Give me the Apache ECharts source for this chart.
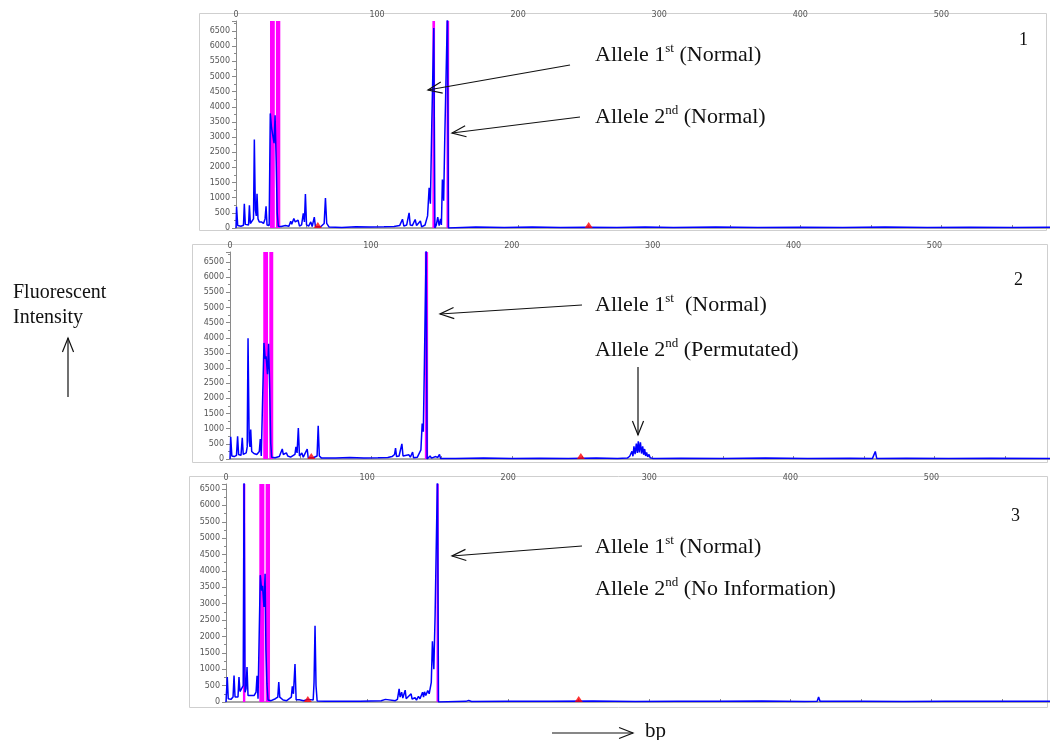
<!DOCTYPE html>
<html><head><meta charset="utf-8">
<script src="https://cdn.jsdelivr.net/npm/echarts@6/dist/echarts.min.js"></script>
<style>html,body{margin:0;padding:0;background:#fff}#c{width:1050px;height:740px}</style>
</head><body><div id="c"></div>
<script>
// ---------- DATA (bp, fluorescent intensity) ----------
const trace1 = [[0,0],[0.4,700],[1.2,80],[2.5,100],[3.5,60],[5.3,90],[5.9,800],[6.6,120],[8,150],[8.9,100],[9.5,750],[10.2,150],[11.5,200],[12.4,300],[13.0,2920],[13.7,600],[14.4,400],[14.9,1130],[15.6,300],[16.5,200],[18,200],[19.5,150],[20.6,300],[21.3,715],[22,100],[23.5,80],[24.3,3780],[25.2,3300],[26,3340],[27,2800],[27.7,3720],[28.5,2200],[29.2,500],[30,60],[32,50],[35,80],[37.5,60],[38.8,220],[39.5,120],[41,310],[42,200],[44,260],[45,60],[46.5,100],[47.7,480],[48.5,200],[49.2,1120],[50,100],[51.5,60],[53,200],[54,50],[55.5,360],[56.3,40],[60,40],[62.5,150],[63.4,990],[64.3,150],[66,30],[75,20],[85,40],[95,30],[105,40],[112,50],[116,80],[118,290],[119,60],[121,100],[122.7,500],[123.5,100],[125,80],[127,280],[128,80],[130.7,230],[131.6,40],[134,100],[135.8,400],[136.9,1330],[137.8,800],[138.8,3470],[140.2,6600],[141,0],[142,100],[143,360],[144,80],[145,300],[145.6,100],[146.3,1600],[147.2,900],[148,3000],[149.9,7200],[150.6,0],[152,20],[170,30],[190,15],[210,30],[230,20],[248,25],[270,15],[290,30],[310,20],[340,30],[370,15],[400,25],[430,20],[460,30],[490,15],[520,25],[550,20],[577,25]];

const trace2 = [[0,0],[0.5,730],[1.3,100],[3,80],[4.6,120],[5.4,750],[6.1,150],[7.8,120],[8.7,700],[9.4,150],[11.5,200],[12.2,400],[12.8,3980],[13.6,600],[14.2,400],[14.7,970],[15.4,250],[17,180],[19,150],[20.8,250],[21.5,660],[22.2,100],[23.3,100],[24.1,3830],[25,3300],[25.6,3390],[26.6,2800],[27.4,3800],[28.2,2300],[28.9,530],[29.6,60],[32,40],[35,80],[36.4,100],[37.1,330],[37.8,150],[40,200],[41,100],[43,60],[46.1,150],[46.8,400],[47.6,200],[48.5,1020],[49.3,100],[51,200],[52,60],[54.8,330],[55.5,40],[59,40],[61.8,100],[62.6,1100],[63.4,100],[65,30],[75,30],[85,50],[95,30],[105,40],[112,50],[115,80],[116.8,150],[117.5,360],[118.2,80],[120,100],[122,500],[122.8,100],[124,80],[127,140],[128,60],[129.6,230],[130.3,40],[133,60],[135.5,300],[136.4,1170],[137.2,900],[138,3190],[139.2,7000],[139.9,0],[141,60],[142,100],[143,30],[146,80],[147.5,50],[148.7,150],[149.4,20],[160,20],[180,30],[200,15],[220,25],[240,20],[260,30],[275,20],[282,30],[283.7,90],[284.5,30],[285.3,250],[286,90],[286.7,420],[287.5,160],[288.4,510],[289.1,200],[289.8,580],[290.5,220],[291.3,550],[292.1,180],[292.9,420],[293.6,140],[294.3,330],[295,100],[295.7,220],[296.5,70],[297.4,150],[298.2,40],[299.1,90],[299.9,20],[300.7,40],[303,15],[320,25],[350,20],[380,30],[410,15],[440,25],[456,20],[458,250],[459,20],[480,25],[510,15],[540,25],[582,20]];

const trace3 = [[0,0],[0.9,760],[1.6,100],[3.5,80],[5,150],[5.7,810],[6.4,150],[8.5,150],[9.2,760],[9.9,320],[11,320],[12.2,500],[12.8,7000],[13.5,300],[14.2,400],[14.9,1070],[15.6,200],[17,200],[20,200],[21.3,300],[22,800],[22.7,100],[23.6,100],[24.3,3870],[25.3,3400],[25.9,3550],[26.9,2900],[27.7,3910],[28.3,1600],[29,560],[29.8,60],[32,40],[35,100],[36.7,150],[37.4,610],[38.1,150],[39.5,170],[40.5,60],[43,40],[46.3,150],[47,480],[47.8,250],[48.9,1160],[49.7,70],[52,70],[55,40],[58,80],[61.8,60],[62.4,600],[63.1,2330],[63.8,500],[64.6,30],[70,20],[80,20],[95,20],[110,40],[113,80],[114,30],[120,40],[121.5,80],[122.7,400],[123.4,150],[124.5,300],[125.3,120],[127,360],[127.7,100],[129,150],[131.2,250],[131.9,90],[134,130],[135,60],[136.4,170],[137.5,100],[139.3,300],[140,150],[140.7,310],[141.6,200],[143,350],[144,250],[145.5,600],[146.3,1850],[147.3,1000],[148.2,2640],[149.9,7000],[150.6,0],[152,20],[170,20],[172,50],[174,15],[200,25],[230,20],[260,30],[290,15],[320,25],[350,20],[380,30],[410,15],[419,20],[420,150],[421,20],[450,25],[480,15],[510,25],[540,20],[584,25]];

const bands1 = [[24.1,27.5],[28.3,31.4],[139.2,141.1],[149.2,151.1]];
const bands2 = [[23.6,27.0],[27.9,30.7],[138.3,140.6]];
const bands3 = [[12.0,13.7],[23.6,27.2],[28.1,31.2],[149.2,150.8]];

const marks1 = [58, 250];
const marks2 = [57.7, 249];
const marks3 = [58, 250];

const panelNames = ['1', '2', '3'];
const notes1 = [['1', 'st', ' (Normal)'], ['2', 'nd', ' (Normal)']];
const notes2 = [['1', 'st', '  (Normal)'], ['2', 'nd', ' (Permutated)']];
const notes3 = [['1', 'st', ' (Normal)'], ['2', 'nd', ' (No Information)']];
const yLabel = ['Fluorescent', 'Intensity'];
const xLabel = 'bp';

// ---------- LAYOUT ----------
const panels = [
  {trace: trace1, bands: bands1, marks: marks1, grid: {left: 236, top: 21, right: 0, height: 207}, xMax: 577, yMax: 6830},
  {trace: trace2, bands: bands2, marks: marks2, grid: {left: 230, top: 252, right: 0, height: 207}, xMax: 582, yMax: 6830},
  {trace: trace3, bands: bands3, marks: marks3, grid: {left: 226, top: 484, right: 0, height: 218}, xMax: 584, yMax: 6653}
];

const AX = '#8a8a8a', LBL = '#555';
const grid = [], xAxis = [], yAxis = [], series = [];
panels.forEach((p, i) => {
  grid.push(Object.assign({containLabel: false}, p.grid));
  xAxis.push({
    type: 'value', gridIndex: i, position: 'top', min: 0, max: p.xMax, interval: 50,
    axisLine: {lineStyle: {color: AX, width: 1.5}},
    axisTick: {show: true, length: 3, lineStyle: {color: AX}},
    axisLabel: {show: true, margin: 2, fontSize: 8, color: LBL, fontFamily: 'DejaVu Sans',
      showMaxLabel: false, formatter: v => (v % 100 === 0 ? String(v) : '')},
    splitLine: {show: false}
  });
  yAxis.push({
    type: 'value', gridIndex: i, min: 0, max: p.yMax, interval: 500,
    axisLine: {show: true, lineStyle: {color: AX, width: 1}},
    axisTick: {show: true, length: 4, lineStyle: {color: AX}},
    minorTick: {show: true, splitNumber: 2, length: 2, lineStyle: {color: AX}},
    axisLabel: {margin: 6, fontSize: 8, color: LBL, fontFamily: 'DejaVu Sans', showMaxLabel: false,
      formatter: v => String(v)},
    splitLine: {show: false}
  });
  series.push({
    type: 'line', xAxisIndex: i, yAxisIndex: i, data: [], z: 1, silent: true,
    markArea: {silent: true, itemStyle: {color: '#ff00ff', opacity: 1},
      data: p.bands.map(b => [{xAxis: b[0]}, {xAxis: b[1]}])}
  });
  series.push({
    type: 'line', xAxisIndex: i, yAxisIndex: i, data: p.trace, z: 3,
    showSymbol: false, symbol: 'none', clip: true,
    lineStyle: {color: '#0000ff', width: 1.5}
  });
  series.push({
    type: 'scatter', xAxisIndex: i, yAxisIndex: i, z: 4,
    data: p.marks.map(m => [m, 0]), symbol: 'triangle', symbolSize: [8, 6], symbolOffset: [0, -3],
    itemStyle: {color: '#ff0000'}
  });
});

// ---------- ANNOTATIONS ----------
const SERIF = '"Liberation Serif", "Times New Roman", serif';
function note(x, y, parts) {
  return {type: 'text', x: x, y: y, z: 10,
    style: {text: '{a|Allele ' + parts[0] + '}{s|' + parts[1] + '}{a|' + parts[2] + '}',
      rich: {
        a: {fontSize: 22, fontFamily: SERIF, fill: '#111', color: '#111', lineHeight: 25},
        s: {fontSize: 13, fontFamily: SERIF, fill: '#111', color: '#111', lineHeight: 14, verticalAlign: 'top'}
      },
      align: 'left', verticalAlign: 'middle', textAlign: 'left', textVerticalAlign: 'middle'}};
}
function plain(x, y, t, size) {
  return {type: 'text', x: x, y: y, z: 10,
    style: {text: t, font: size + 'px ' + SERIF, fill: '#111',
      align: 'left', verticalAlign: 'middle', textAlign: 'left', textVerticalAlign: 'middle'}};
}
function arrow(x1, y1, x2, y2) {
  const a = Math.atan2(y2 - y1, x2 - x1), L = 15, f = 0.38;
  const p1 = [x2 - L * Math.cos(a - f), y2 - L * Math.sin(a - f)];
  const p2 = [x2 - L * Math.cos(a + f), y2 - L * Math.sin(a + f)];
  return [
    {type: 'line', z: 10, shape: {x1: x1, y1: y1, x2: x2, y2: y2}, style: {stroke: '#111', lineWidth: 1.2}},
    {type: 'polyline', z: 10, shape: {points: [p1, [x2, y2], p2]}, style: {stroke: '#111', lineWidth: 1.2, fill: null}}
  ];
}
const boxStyle = {stroke: '#cfcfcf', lineWidth: 1, fill: 'rgba(0,0,0,0)'};
const graphic = [
  {type: 'rect', z: 0, shape: {x: 199.5, y: 13.5, width: 847, height: 217}, style: boxStyle},
  {type: 'rect', z: 0, shape: {x: 192.5, y: 244.5, width: 855, height: 218}, style: boxStyle},
  {type: 'rect', z: 0, shape: {x: 189.5, y: 476.5, width: 858, height: 231}, style: boxStyle},
  note(595, 55, notes1[0]), note(595, 117, notes1[1]),
  note(595, 305, notes2[0]), note(595, 350, notes2[1]),
  note(595, 547, notes3[0]), note(595, 589, notes3[1]),
  plain(1019, 40, panelNames[0], 18), plain(1014, 280, panelNames[1], 18), plain(1011, 516, panelNames[2], 18),
  plain(13, 293, yLabel[0], 20), plain(13, 318, yLabel[1], 20),
  plain(645, 731, xLabel, 21)
].concat(
  arrow(570, 65, 428, 90), arrow(580, 117, 452, 133),
  arrow(582, 305, 440, 314), arrow(638, 367, 638, 435),
  arrow(582, 546, 452, 556),
  arrow(68, 397, 68, 338), arrow(552, 733, 633, 733)
);

const chart = echarts.init(document.getElementById('c'), null, {renderer: 'canvas'});
chart.setOption({
  animation: false, backgroundColor: '#fff',
  grid, xAxis, yAxis, series, graphic
});
</script></body></html>
